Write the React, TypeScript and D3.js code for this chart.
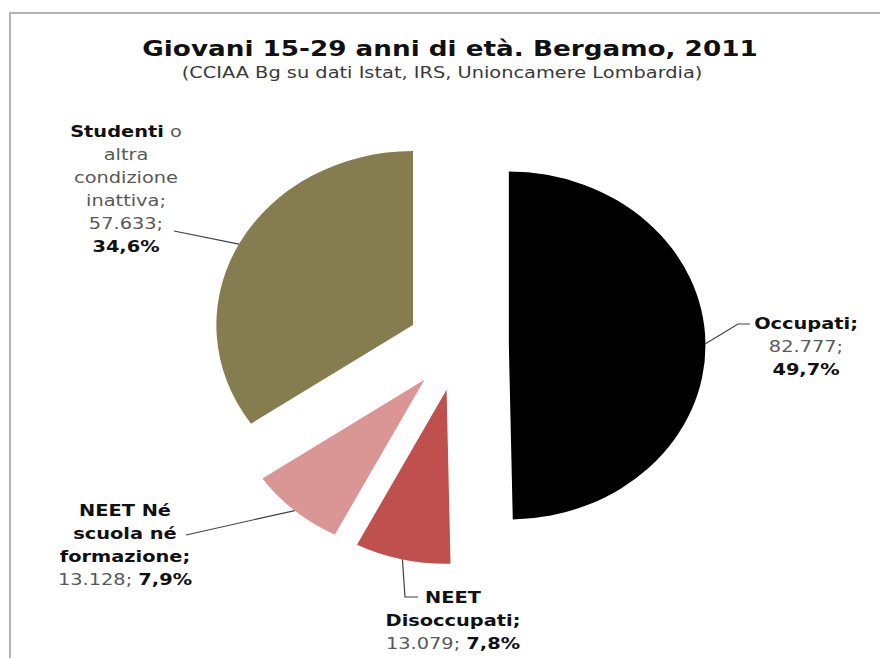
import React, { useEffect, useRef } from 'react';
import * as d3 from 'd3';

// Giovani 15-29 anni, Bergamo 2011
const categories = ['Occupati', 'NEET Disoccupati', 'NEET Né scuola né formazione', 'Studenti o altra condizione inattiva'];
const values = [82777, 13079, 13128, 57633];
const colors = ['#000000', '#c0504d', '#d99694', '#857c4f'];

const title = 'Giovani 15-29 anni di età. Bergamo, 2011';
const subtitle = '(CCIAA Bg su dati Istat, IRS, Unioncamere Lombardia)';

// how each label is broken into lines: [text, bold]
type Part = [string, boolean];

const width = 880;
const height = 658;

const PieChart: React.FC = () => {
  const svgRef = useRef<SVGSVGElement>(null);

  useEffect(() => {
    const svg = d3.select(svgRef.current);
    svg.selectAll('*').remove();

    const font = "'DejaVu Sans', Verdana, sans-serif";
    const textStretch = 1.25;
    const sx = 1.13; // the picture is a bit wider than tall
    const radius = 174;
    const explode = 45;
    const cx = 458;
    const cy = 346;

    const total = d3.sum(values);
    const fmtValue = d3.formatLocale({ decimal: ',', thousands: '.', grouping: [3], currency: ['€', ''] }).format(',');
    const fmtPct = (v: number) => (v / total * 100).toFixed(1).replace('.', ',') + '%';

    svg.append('rect').attr('width', width).attr('height', height).attr('fill', '#fff');

    // frame (only top and left show in the crop)
    svg.append('path')
      .attr('d', `M10,${height} L10,13 L${width},13`)
      .attr('fill', 'none')
      .attr('stroke', '#b3b3b3')
      .attr('stroke-width', 2);

    const addText = (x: number, y: number, parts: Part[], size: number, fill = '#000', normalFill = '#595959') => {
      const t = svg.append('text')
        .attr('transform', `translate(${x},${y}) scale(${textStretch},1)`)
        .attr('text-anchor', 'middle')
        .style('font-family', font)
        .style('font-size', `${size}px`);
      parts.forEach(([s, bold]) => {
        t.append('tspan')
          .style('font-weight', bold ? 'bold' : 'normal')
          .attr('fill', bold ? fill : normalFill)
          .text(s);
      });
      return t;
    };

    addText(450, 56, [[title, true]], 21, '#111');
    addText(442, 78, [[subtitle, false]], 15.5, '#111', '#3a3a3a');

    const pie = d3.pie<number>().sort(null).value(d => d)(values);
    const arc = d3.arc<d3.PieArcDatum<number>>().innerRadius(0).outerRadius(radius);

    const g = svg.append('g').attr('transform', `translate(${cx},${cy}) scale(${sx},1)`);

    const mid = (d: d3.PieArcDatum<number>) => (d.startAngle + d.endAngle) / 2;

    g.selectAll('path.slice')
      .data(pie)
      .enter()
      .append('path')
      .attr('class', 'slice')
      .attr('transform', d => `translate(${explode * Math.sin(mid(d))},${-explode * Math.cos(mid(d))})`)
      .attr('d', arc)
      .attr('fill', (_, i) => colors[i]);

    // point on the outer edge at the middle of a slice, in page coords
    const edge = (i: number) => {
      const a = mid(pie[i]);
      const r = explode + radius;
      return [cx + sx * r * Math.sin(a), cy - r * Math.cos(a)];
    };

    const v = values.map(d => fmtValue(d));
    const p = values.map(d => fmtPct(d));

    const labels: { x: number; y: number; lines: Part[][]; leader: number[][] }[] = [
      {
        x: 806, y: 329,
        lines: [[['Occupati;', true]], [[`${v[0]};`, false]], [[p[0], true]]],
        leader: [[738, 324], [750, 324]]
      },
      {
        x: 453, y: 603,
        lines: [[['NEET', true]], [['Disoccupati;', true]], [[`${v[1]}; `, false], [p[1], true]]],
        leader: [[405, 597], [418, 597]]
      },
      {
        x: 125, y: 516,
        lines: [[['NEET Né', true]], [['scuola né', true]], [['formazione;', true]], [[`${v[2]}; `, false], [p[2], true]]],
        leader: [[186, 535]]
      },
      {
        x: 126, y: 137,
        lines: [[['Studenti', true], [' o', false]], [['altra', false]], [['condizione', false]], [['inattiva;', false]], [[`${v[3]};`, false]], [[p[3], true]]],
        leader: [[174, 231]]
      }
    ];

    labels.forEach((l, i) => {
      const pts = [edge(i), ...l.leader];
      svg.append('path')
        .attr('d', d3.line()(pts as [number, number][]))
        .attr('fill', 'none')
        .attr('stroke', '#404040')
        .attr('stroke-width', 1.2);
      l.lines.forEach((parts, k) => addText(l.x, l.y + k * 23, parts, 15.5, '#111'));
    });
  }, []);

  return (
    <svg ref={svgRef} width={width} height={height} style={{ position: 'absolute', left: 0, top: 0 }} />
  );
};

export default function App() {
  return <PieChart />;
}
